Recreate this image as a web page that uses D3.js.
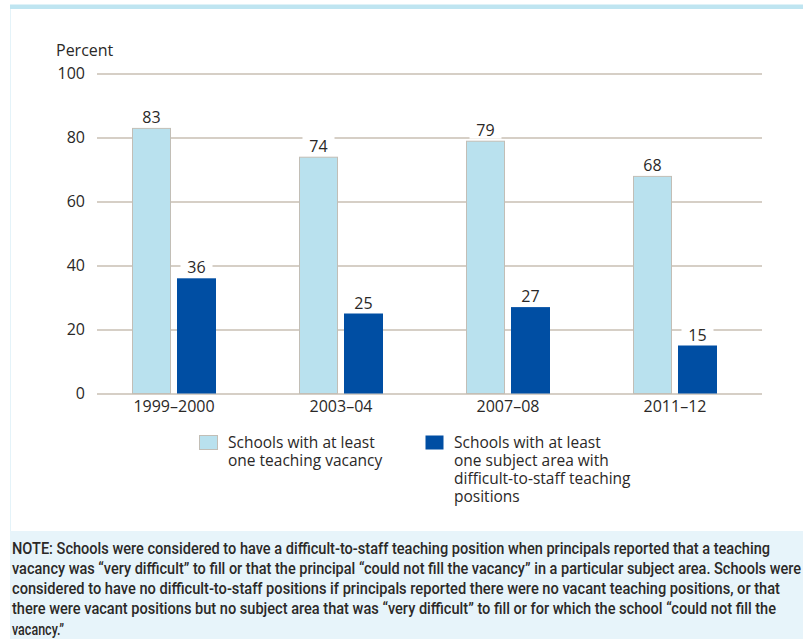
<!DOCTYPE html>
<html>
<head>
<meta charset="utf-8">
<script src="https://cdn.jsdelivr.net/npm/d3@7"></script>
<style>
  html, body { margin: 0; padding: 0; background: #fff; }
  svg { display: block; }
</style>
</head>
<body>
<svg id="chart" width="803" height="639"></svg>
<script>
// School years surveyed
const categories = ["1999\u20132000", "2003\u201304", "2007\u201308", "2011\u201312"];
// Series keys and legend text (each legend entry split into its lines)
const seriesKeys = ["vacancy", "difficult"];
const seriesLegend = [
  ["Schools with at least", "one teaching vacancy"],
  ["Schools with at least", "one subject area with", "difficult-to-staff teaching", "positions"]
];
// Percent of schools
const vacancyValues = [83, 74, 79, 68];
const difficultValues = [36, 25, 27, 15];
// Y axis ticks
const yTicks = [0, 20, 40, 60, 80, 100];
const noteLines = [
  "NOTE: Schools were considered to have a difficult-to-staff teaching position when principals reported that a teaching",
  "vacancy was \u201cvery difficult\u201d to fill or that the principal \u201ccould not fill the vacancy\u201d in a particular subject area. Schools were",
  "considered to have no difficult-to-staff positions if principals reported there were no vacant teaching positions, or that",
  "there were vacant positions but no subject area that was \u201cvery difficult\u201d to fill or for which the school \u201ccould not fill the",
  "vacancy.\u201d"
];
const noteWidths = [758, 789, 768, 764, 52];

const colors = { vacancy: "#b9e1ee", difficult: "#004ea3" };
const textColor = "#2a2827";
const gridColor = "#c9bfb3";
const font = "'Open Sans', 'Noto Sans', sans-serif";

const rows = categories.map((c, i) => ({
  cat: c,
  vacancy: vacancyValues[i],
  difficult: difficultValues[i]
}));

const svg = d3.select("#chart");

// frame: thin band on top, faint rule on the left
svg.append("rect").attr("x", 10).attr("y", 4.5).attr("width", 793).attr("height", 4.5)
  .attr("fill", "#bfe5f1");
svg.append("line").attr("x1", 10.5).attr("x2", 10.5).attr("y1", 9).attr("y2", 531)
  .attr("stroke", "#e4f3f9").attr("stroke-width", 1);

const gridLeft = 97, gridRight = 762;

const y = d3.scaleLinear().domain([0, 100]).range([393.5, 73.5]);
const x0 = d3.scaleBand().domain(categories).range([90.5, 758.5])
  .paddingInner(83 / 167).paddingOuter(41.5 / 167);
const x1 = d3.scaleBand().domain(seriesKeys).range([0, x0.bandwidth()])
  .paddingInner(6 / 45);

// gridlines + y labels
const yAxis = svg.append("g")
  .attr("transform", `translate(${gridLeft},0)`)
  .call(d3.axisLeft(y).tickValues(yTicks).tickSize(-(gridRight - gridLeft)).tickPadding(12));
yAxis.select(".domain").remove();
yAxis.selectAll(".tick line").attr("stroke", gridColor).attr("stroke-width", 1.5);
yAxis.selectAll(".tick text")
  .attr("fill", textColor).attr("font-family", font).attr("font-size", 16);

svg.append("text").attr("x", 56).attr("y", 55.5)
  .attr("fill", textColor).attr("font-family", font).attr("font-size", 16)
  .text("Percent");

// bars
const groups = svg.append("g").selectAll("g").data(rows).join("g")
  .attr("transform", d => `translate(${x0(d.cat)},0)`);

const cells = groups.selectAll("g").data(d => seriesKeys.map(k => ({ key: k, value: d[k] })))
  .join("g");

// white patches behind value labels so the gridlines break around them
cells.append("rect")
  .attr("x", d => x1(d.key) + x1.bandwidth() / 2 - 16)
  .attr("y", d => y(d.value) - 21)
  .attr("width", 32).attr("height", 19)
  .attr("fill", "#fff");

cells.append("rect")
  .attr("x", d => x1(d.key) + (d.key === "vacancy" ? 0.5 : 0))
  .attr("y", d => y(d.value) + (d.key === "vacancy" ? 0.5 : 0))
  .attr("width", d => x1.bandwidth() - (d.key === "vacancy" ? 1 : 0))
  .attr("height", d => y(0) - y(d.value) - (d.key === "vacancy" ? 0.5 : 0))
  .attr("fill", d => colors[d.key])
  .attr("stroke", d => d.key === "vacancy" ? "#c2beb6" : "none")
  .attr("stroke-width", 1);

cells.append("text")
  .attr("x", d => x1(d.key) + x1.bandwidth() / 2)
  .attr("y", d => y(d.value) - 5)
  .attr("text-anchor", "middle")
  .attr("fill", textColor).attr("font-family", font).attr("font-size", 16)
  .text(d => d.value);

// x axis labels
const xAxis = svg.append("g")
  .attr("transform", `translate(0,${y(0)})`)
  .call(d3.axisBottom(x0).tickSize(0).tickPadding(7));
xAxis.select(".domain").remove();
xAxis.selectAll(".tick text")
  .attr("fill", textColor).attr("font-family", font).attr("font-size", 16);

// legend
const legendX = [199, 425];
const legend = svg.append("g").selectAll("g").data(seriesKeys).join("g")
  .attr("transform", (d, i) => `translate(${legendX[i]},435)`);
legend.append("rect")
  .attr("x", 0.5).attr("y", 0.5).attr("width", 18).attr("height", 14)
  .attr("fill", d => colors[d])
  .attr("stroke", d => d === "vacancy" ? "#c2beb6" : "none");
legend.append("text")
  .attr("fill", textColor).attr("font-family", font).attr("font-size", 15.5)
  .selectAll("tspan").data((d, i) => seriesLegend[i]).join("tspan")
  .attr("x", 29).attr("y", (t, j) => 12.5 + j * 18)
  .text(t => t);

// note box
svg.append("rect").attr("x", 10).attr("y", 531).attr("width", 793).attr("height", 108)
  .attr("fill", "#e7f4fa");
svg.append("g").selectAll("text").data(noteLines).join("text")
  .attr("x", 12).attr("y", (t, i) => 553.5 + i * 20.3)
  .attr("fill", "#2b2927")
  .attr("font-family", "Roboto, 'Liberation Sans Narrow', sans-serif")
  .attr("font-weight", 500)
  .attr("font-size", 16)
  .attr("textLength", (t, i) => noteWidths[i])
  .attr("lengthAdjust", "spacingAndGlyphs")
  .text(t => t);
</script>
</body>
</html>
